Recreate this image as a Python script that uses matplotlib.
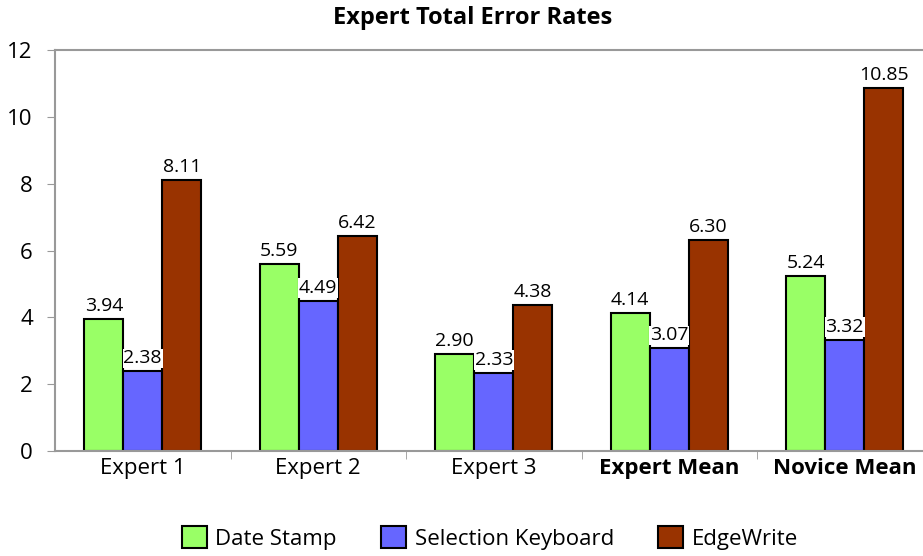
import matplotlib.pyplot as plt
import numpy as np

plt.rcParams['font.family'] = ['Open Sans', 'DejaVu Sans']

# data
categories = ['Expert 1', 'Expert 2', 'Expert 3', 'Expert Mean', 'Novice Mean']
date_stamp = [3.94, 5.59, 2.90, 4.14, 5.24]
selection_keyboard = [2.38, 4.49, 2.33, 3.07, 3.32]
edgewrite = [8.11, 6.42, 4.38, 6.30, 10.85]
series_names = ['Date Stamp', 'Selection Keyboard', 'EdgeWrite']
colors = ['#99FF66', '#6666FF', '#993300']

fig = plt.figure(figsize=(9.23, 5.56), dpi=100)
ax = fig.add_axes([55/923, 105/556, 877.5/923, 401/556])

x = np.arange(len(categories))
bar_width = 0.222
series = [date_stamp, selection_keyboard, edgewrite]
for i, (vals, name, c) in enumerate(zip(series, series_names, colors)):
    pos = x + (i - 1) * bar_width
    bars = ax.bar(pos, vals, bar_width, color=c, edgecolor='black', linewidth=1.5,
                  label=name, zorder=2)
    for b, v in zip(bars, vals):
        bbox = dict(facecolor='white', edgecolor='none', pad=0.5) if i == 1 else None
        ax.text(b.get_x() + b.get_width() / 2, v + 0.12, f'{v:.2f}',
                ha='center', va='bottom', fontsize=14, bbox=bbox, zorder=3)

ax.set_xlim(-0.5, 4.5)
ax.set_ylim(0, 12)
ax.set_yticks(range(0, 13, 2))
ax.tick_params(axis='y', labelsize=16, length=6, color='#999999', pad=10)
ax.set_xticks(x)
ax.set_xticklabels(categories, fontsize=16)
for lbl in ax.get_xticklabels()[3:]:
    lbl.set_fontweight('bold')
ax.tick_params(axis='x', length=0, pad=5)
ax.set_xticks(np.arange(0.5, 4.5, 1), minor=True)
ax.tick_params(axis='x', which='minor', length=6, color='#999999')
for side in ['left', 'bottom', 'top']:
    ax.spines[side].set_color('#999999')
    ax.spines[side].set_linewidth(1.5)
ax.spines['right'].set_visible(False)

fig.text(473/923, 1 - 18/556, 'Expert Total Error Rates', ha='center', va='center',
         fontsize=17, fontweight='bold')

fig.legend(loc='center', bbox_to_anchor=(490/923, 1 - 538/556), ncol=3, frameon=False,
           fontsize=16, handlelength=1.1, handleheight=1.1, columnspacing=2.0,
           handletextpad=0.4)

fig.savefig('out.png', dpi=100)
